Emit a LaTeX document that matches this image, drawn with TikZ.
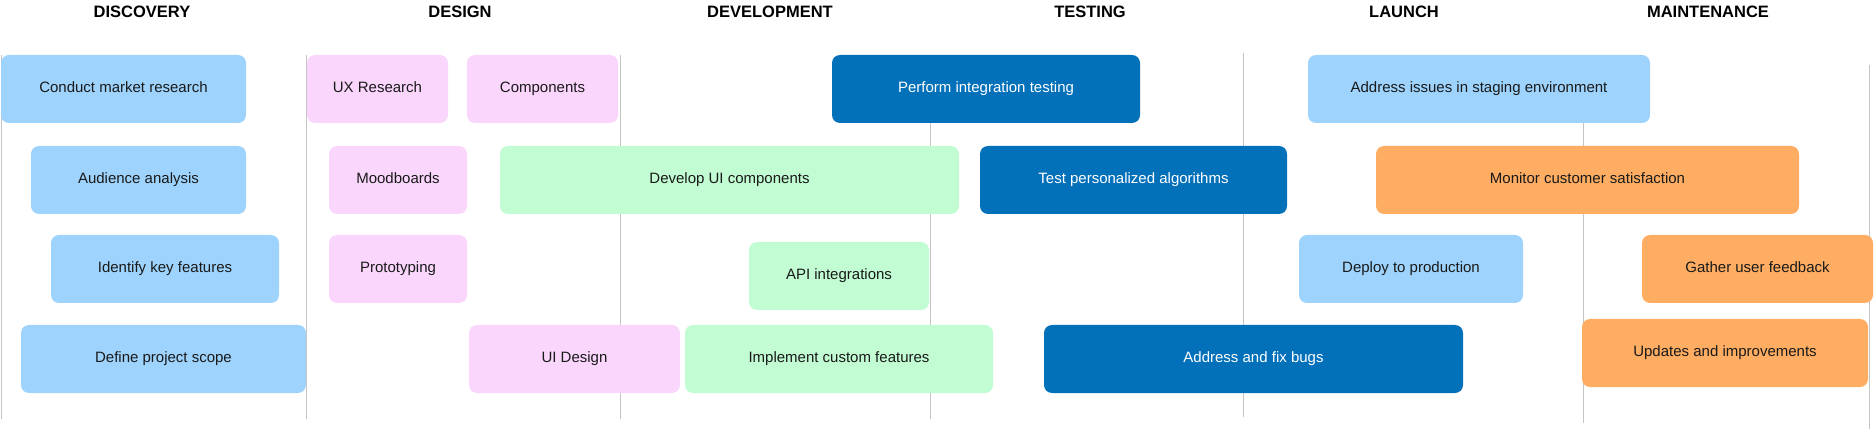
\documentclass[tikz,border=0pt]{standalone}
\usepackage{fontspec}
\setmainfont{Liberation Sans}
\usepackage{xcolor}
\usepackage{tikz}
\usetikzlibrary{positioning}
\definecolor{skyblue}{HTML}{9DD3FD}
\definecolor{pinkish}{HTML}{FAD6FC}
\definecolor{mint}{HTML}{C1FCD2}
\definecolor{deepblue}{HTML}{0370BA}
\definecolor{apricot}{HTML}{FEAD62}
\definecolor{rulegray}{HTML}{C4C4C4}
\definecolor{inkblack}{HTML}{1A1A1A}
\tikzset{
  phase/.style={font=\fontsize{16.5}{19}\selectfont\bfseries, text=black, inner sep=0pt},
  task/.style={rounded corners=8pt, inner sep=0pt, minimum height=68pt,
    text height=9.5pt, text depth=3pt, font=\fontsize{15}{18}\selectfont, text=inkblack},
  research/.style={task, fill=skyblue},
  design/.style={task, fill=pinkish},
  build/.style={task, fill=mint},
  test/.style={task, fill=deepblue, text=white},
  care/.style={task, fill=apricot}
}

\begin{document}
\begin{tikzpicture}[x=1pt, y=-1pt]
\useasboundingbox (0,0) rectangle (1874,430);
\foreach \x/\a/\b in {1/55/419, 306/55/419, 620/55/419, 930/55/419, 1243/53/417, 1583/55/423, 1869/65/429} {
 \draw[rulegray, line width=1pt] (\x,\a) -- (\x,\b);
}

\node[phase] (discovery) at (142,12) {DISCOVERY};
\node[phase] (designhd) at (460,12) {DESIGN};
\node[phase] (develop) at (770,12) {DEVELOPMENT};
\node[phase] (testing) at (1090,12) {TESTING};
\node[phase] (launch) at (1404,12) {LAUNCH};
\node[phase] (maintain) at (1708,12) {MAINTENANCE};

\node[research, minimum width=245pt] (market) at (123.5,89) {Conduct market research};
\node[research, minimum width=215pt] (audience) at (138.5,180) {Audience analysis};
\node[research, minimum width=228pt] (keyfeat) at (165,269) {Identify key features};
\node[research, minimum width=285pt] (scope) at (163.5,359) {Define project scope};

\node[design, minimum width=141pt] (uxres) at (377.5,89) {UX Research};
\node[design, minimum width=151pt] (comps) at (542.5,89) {Components};
\node[design, minimum width=138pt] (mood) at (398,180) {Moodboards};
\node[design, minimum width=138pt] (proto) at (398,269) {Prototyping};
\node[design, minimum width=211pt] (uidesign) at (574.5,359) {UI Design};

\node[build, minimum width=459pt] (devui) at (729.5,180) {Develop UI components};
\node[build, minimum width=180pt] (api) at (839,276) {API integrations};
\node[build, minimum width=308pt] (custom) at (839,359) {Implement custom features};

\node[test, minimum width=308pt] (integ) at (986,89) {Perform integration testing};
\node[test, minimum width=307pt] (algo) at (1133.5,180) {Test personalized algorithms};
\node[test, minimum width=419pt] (bugs) at (1253.5,359) {Address and fix bugs};

\node[research, minimum width=342pt] (staging) at (1479,89) {Address issues in staging environment};
\node[research, minimum width=224pt] (deploy) at (1411,269) {Deploy to production};

\node[care, minimum width=423pt] (satisfy) at (1587.5,180) {Monitor customer satisfaction};
\node[care, minimum width=231pt] (feedback) at (1757.5,269) {Gather user feedback};
\node[care, minimum width=286pt] (updates) at (1725,353) {Updates and improvements};
\end{tikzpicture}
\end{document}
